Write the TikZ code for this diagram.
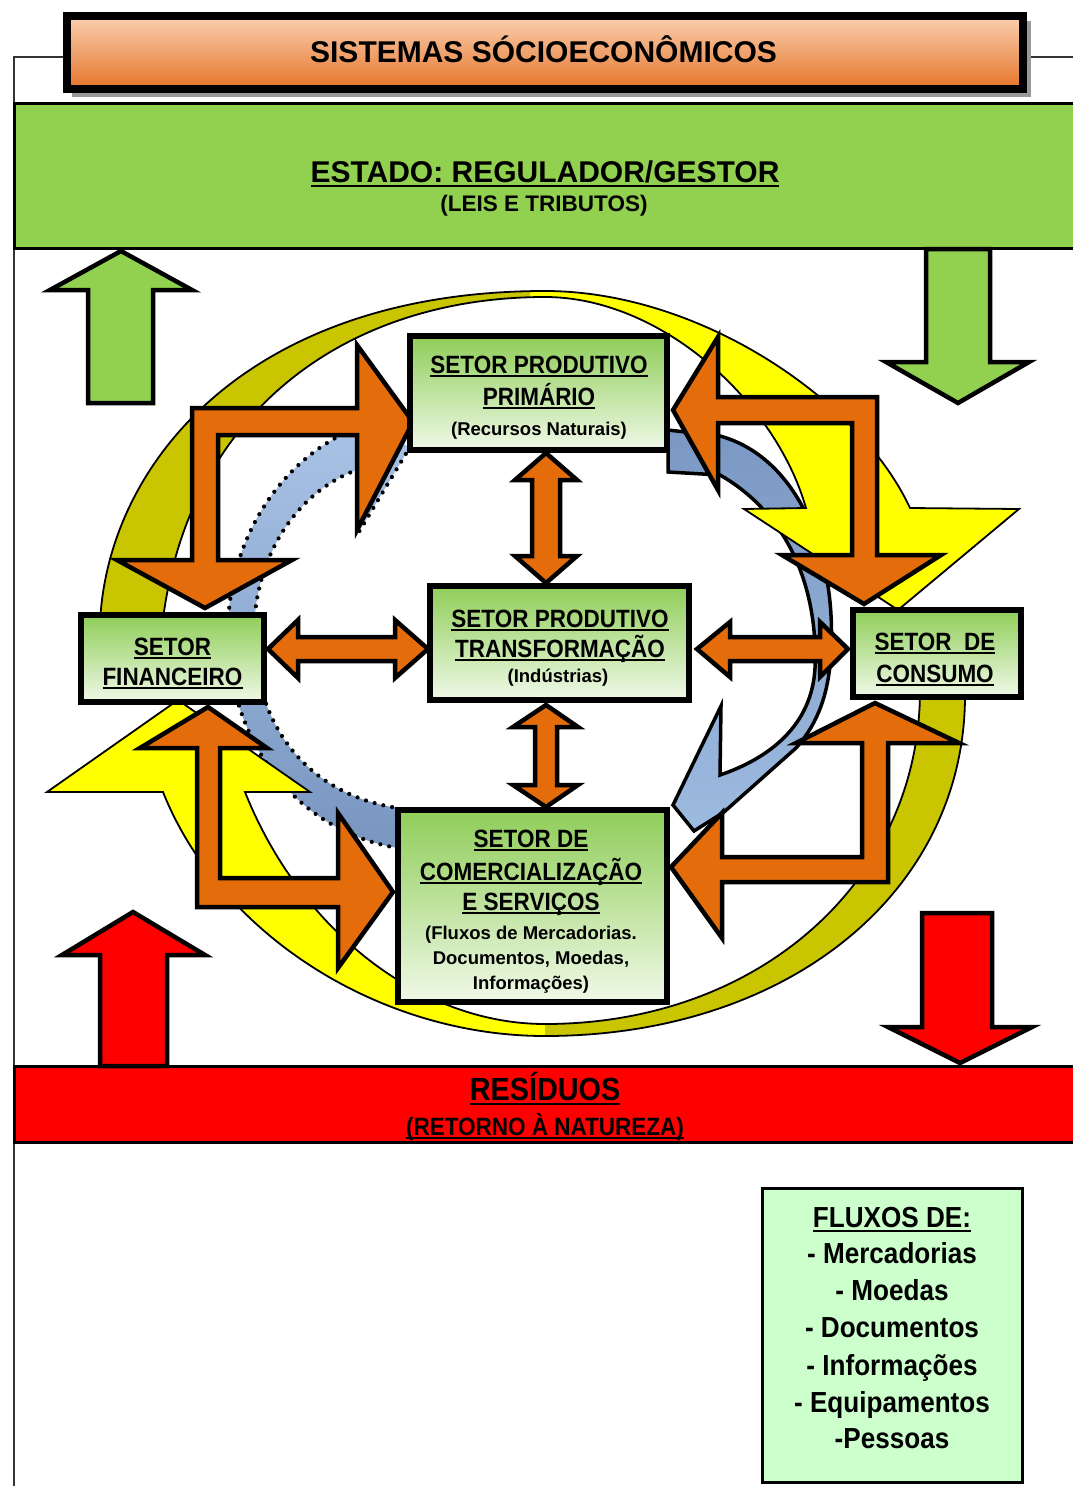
\documentclass[tikz,border=0pt]{standalone}
\usepackage{fontspec}
\setmainfont{Liberation Sans}
\newfontfamily\narrowfont{Liberation Sans}[FakeStretch=0.9]
\definecolor{orng}{HTML}{E46C0A}
\definecolor{grn}{HTML}{92D050}
\definecolor{secgreen}{HTML}{8FCD58}
\definecolor{seclight}{HTML}{F0F9E8}
\definecolor{yel}{HTML}{FFFF00}
\definecolor{olv}{HTML}{C9C500}
\definecolor{bluetop}{HTML}{A9C3E6}
\definecolor{bluebot}{HTML}{7896C0}
\definecolor{rbluetop}{HTML}{7A98C3}
\definecolor{rbluebot}{HTML}{9DBADF}
\definecolor{fluxo}{HTML}{CCFFCC}
\definecolor{peach}{HTML}{FAD0B0}
\definecolor{titorange}{HTML}{E6742A}
\definecolor{redc}{HTML}{FF0000}

\newcommand\undl[1]{\setbox0\hbox{#1}\rlap{\rule[-0.17em]{\wd0}{0.075em}}\box0}
\newcommand\secfont{\narrowfont\bfseries\fontsize{25}{30}\selectfont}
\newcommand\smlfont{\bfseries\fontsize{18.5}{22}\selectfont}
\newcommand\flxfont{\narrowfont\bfseries\fontsize{29}{34}\selectfont}

\def\upperyellow{(100,650) .. controls (92,480) and (235,291) .. (545,291) .. controls (700,291) and (860,400) .. (910,508) -- (1019,509) -- (898,610) -- (744,509) -- (806,508) .. controls (775,400) and (660,297) .. (545,297) .. controls (340,297) and (175,420) .. (160,650) -- cycle}
\def\loweryellow{(965,690) .. controls (968,890) and (790,1036) .. (545,1036) .. controls (380,1036) and (220,935) .. (163,792) -- (47,792) -- (178,700) -- (310,792) -- (245,792) .. controls (300,930) and (420,1024) .. (545,1024) .. controls (760,1024) and (920,880) .. (920,690) -- cycle}
\def\leftblue{(398,848) .. controls (300,832) and (228,745) .. (228,632) .. controls (228,535) and (285,458) .. (352,430) -- (342,418) -- (410,447) -- (357,535) -- (366,467) .. controls (305,484) and (255,548) .. (254,632) .. controls (254,728) and (310,795) .. (398,808) -- cycle}
\def\rightblue{(668,430) -- (720,436) .. controls (800,458) and (840,560) .. (830,665) .. controls (826,705) and (812,730) .. (796,748) -- (724,812) -- (694,831) -- (673,805) -- (721,706) -- (720,775) .. controls (770,758) and (812,725) .. (815,668) .. controls (818,590) and (790,515) .. (720,475) -- (668,472) -- cycle}

\begin{document}
\begin{tikzpicture}[x=1pt,y=-1pt,
  lbl/.style={anchor=base,inner sep=0pt,outer sep=0pt,text=black},
  obl/.style={draw=black,line width=4.5pt,line join=miter,fill=orng},
  bigarrow/.style={draw=black,line width=4.5pt,line join=miter},
  sector/.style={draw=black,line width=6pt,top color=secgreen,bottom color=seclight,inner sep=0pt,outer sep=0pt},
  band/.style={draw=black,line width=3pt,inner sep=0pt,outer sep=0pt,anchor=north west},
  yedge/.style={draw=black,line width=1.8pt},
]
\fill[white] (0,0) rectangle (1072,1486);
\useasboundingbox (0,0) rectangle (1072,1486);

% page frame
\draw[line width=2pt, black!80] (14,1500) -- (14,57) -- (1090,57);

% title
\fill[black!40] (72,21) rectangle (1031,97);
\node[draw=black,line width=8pt,top color=peach,bottom color=titorange,minimum width=956,minimum height=73,inner sep=0pt] (titlebox) at (545,52.5) {};
\node[lbl] (title) at (543.5,62) {\bfseries\fontsize{30}{36}\selectfont SISTEMAS SÓCIOECONÔMICOS};

% bands
\node[band,fill=grn,minimum width=1080,minimum height=145] (estado) at (14,103) {};
\node[band,fill=redc,minimum width=1080,minimum height=76] (residuos) at (14,1066) {};

% green arrows
\draw[bigarrow,fill=grn] (88,403) -- (88,290) -- (50,290) -- (121,251) -- (192,290) -- (153,290) -- (153,403) -- cycle;
\draw[bigarrow,fill=grn] (926,249) -- (990,249) -- (990,362) -- (1029,362) -- (958,403) -- (886,362) -- (926,362) -- cycle;
% red arrows
\draw[bigarrow,fill=redc] (100,1066) -- (100,955) -- (62,955) -- (133,912) -- (205,955) -- (167,955) -- (167,1066) -- cycle;
\draw[bigarrow,fill=redc] (922,913) -- (992,913) -- (992,1027) -- (1032,1027) -- (960,1063) -- (888,1027) -- (922,1027) -- cycle;

% blue circular arrows
\shade[top color=bluetop,bottom color=bluebot] \leftblue;
\draw[black,line width=4.2pt,line cap=round,dash pattern=on 0pt off 9pt] \leftblue;
\shade[top color=rbluetop,bottom color=rbluebot] \rightblue;
\draw[black,line width=3.5pt,line join=miter] \rightblue;

% yellow circular arrows
\fill[yel] \loweryellow;
\begin{scope}
  \clip (545,0) rectangle (1072,1486);
  \fill[olv] \loweryellow;
\end{scope}
\draw[yedge] \loweryellow;
\fill[yel] \upperyellow;
\begin{scope}
  \clip (0,0) rectangle (530,1486);
  \fill[olv] \upperyellow;
\end{scope}
\draw[yedge] \upperyellow;

% orange L-shaped double arrows
\draw[obl] (192,408) -- (357,408) -- (357,345) -- (413,422) -- (357,530) -- (357,435) -- (218,435) -- (218,560) -- (292,560) -- (205,608) -- (117,560) -- (192,560) -- cycle;
\draw[obl] (673,410) -- (718,337) -- (718,397) -- (877,397) -- (877,555) -- (941,555) -- (864,604) -- (782,555) -- (852,555) -- (852,423) -- (718,423) -- (718,490) -- cycle;
\draw[obl] (208,707) -- (267,748) -- (220,748) -- (220,878) -- (338,878) -- (338,813) -- (393,892) -- (338,968) -- (338,907) -- (197,907) -- (197,748) -- (140,748) -- cycle;
\draw[obl] (875,703) -- (959,743) -- (888,743) -- (888,882) -- (722,882) -- (722,938) -- (671,867) -- (722,813) -- (722,857) -- (862,857) -- (862,743) -- (796,743) -- cycle;

% straight double arrows
\draw[obl] (546,453) -- (577,480) -- (560,480) -- (560,556) -- (577,556) -- (546,583) -- (515,556) -- (532,556) -- (532,480) -- (515,480) -- cycle;
\draw[obl] (546,705) -- (578,727) -- (557,727) -- (557,785) -- (578,785) -- (546,807) -- (513,785) -- (535,785) -- (535,727) -- (513,727) -- cycle;
\draw[obl] (268,649) -- (298,620) -- (298,637) -- (395,637) -- (395,620) -- (428,649) -- (395,678) -- (395,661) -- (298,661) -- (298,678) -- cycle;
\draw[obl] (697,649) -- (730,622) -- (730,637) -- (820,637) -- (820,622) -- (848,649) -- (820,677) -- (820,661) -- (730,661) -- (730,677) -- cycle;

% sector boxes
\node[sector,minimum width=257,minimum height=114] (prim) at (538.5,393) {};
\node[sector,minimum width=259,minimum height=114] (trans) at (559.5,643) {};
\node[sector,minimum width=183,minimum height=87] (fin) at (172.5,658.5) {};
\node[sector,minimum width=168,minimum height=87] (cons) at (937,653.5) {};
\node[sector,minimum width=269,minimum height=192] (com) at (532.5,906) {};

% fluxos box
\node[draw=black,line width=3pt,fill=fluxo,minimum width=260,minimum height=294,inner sep=0pt] (fluxbox) at (892,1335) {};

% band texts
\node[lbl] (estado1) at (545,182) {\bfseries\fontsize{30}{36}\selectfont\undl{ESTADO: REGULADOR/GESTOR}};
\node[lbl] (estado2) at (544,211) {\bfseries\fontsize{22.5}{27}\selectfont (LEIS E TRIBUTOS)};
\node[lbl] (res1) at (545,1100) {\narrowfont\bfseries\fontsize{32}{38}\selectfont\undl{RESÍDUOS}};
\node[lbl] (res2) at (545,1135) {\narrowfont\bfseries\fontsize{25}{30}\selectfont\undl{(RETORNO À NATUREZA)}};

% sector texts
\node[lbl] (prim1) at (539,373) {\secfont\undl{SETOR PRODUTIVO}};
\node[lbl] (prim2) at (539,405) {\secfont\undl{PRIMÁRIO}};
\node[lbl] (prim3) at (539,435) {\smlfont (Recursos Naturais)};
\node[lbl] (trans1) at (560,627) {\secfont\undl{SETOR PRODUTIVO}};
\node[lbl] (trans2) at (560,657) {\secfont\undl{TRANSFORMAÇÃO}};
\node[lbl] (trans3) at (558,682) {\smlfont (Indústrias)};
\node[lbl] (fin1) at (172.5,655) {\secfont\undl{SETOR}};
\node[lbl] (fin2) at (172.5,685) {\secfont\undl{FINANCEIRO}};
\node[lbl] (cons1) at (935,650) {\secfont\undl{SETOR\ \ DE}};
\node[lbl] (cons2) at (935,682) {\secfont\undl{CONSUMO}};
\node[lbl] (com1) at (531,847) {\secfont\undl{SETOR DE}};
\node[lbl] (com2) at (531,880) {\secfont\undl{COMERCIALIZAÇÃO}};
\node[lbl] (com3) at (531,910) {\secfont\undl{E SERVIÇOS}};
\node[lbl] (com4) at (531,939) {\smlfont (Fluxos de Mercadorias.};
\node[lbl] (com5) at (531,964) {\smlfont Documentos, Moedas,};
\node[lbl] (com6) at (531,989) {\smlfont Informações)};

% fluxos texts
\node[lbl] (fl1) at (892,1227) {\flxfont\undl{FLUXOS DE:}};
\node[lbl] (fl2) at (892,1263) {\flxfont - Mercadorias};
\node[lbl] (fl3) at (892,1300) {\flxfont - Moedas};
\node[lbl] (fl4) at (892,1337) {\flxfont - Documentos};
\node[lbl] (fl5) at (892,1375) {\flxfont - Informações};
\node[lbl] (fl6) at (892,1412) {\flxfont - Equipamentos};
\node[lbl] (fl7) at (892,1448) {\flxfont -Pessoas};
\end{tikzpicture}
\end{document}
